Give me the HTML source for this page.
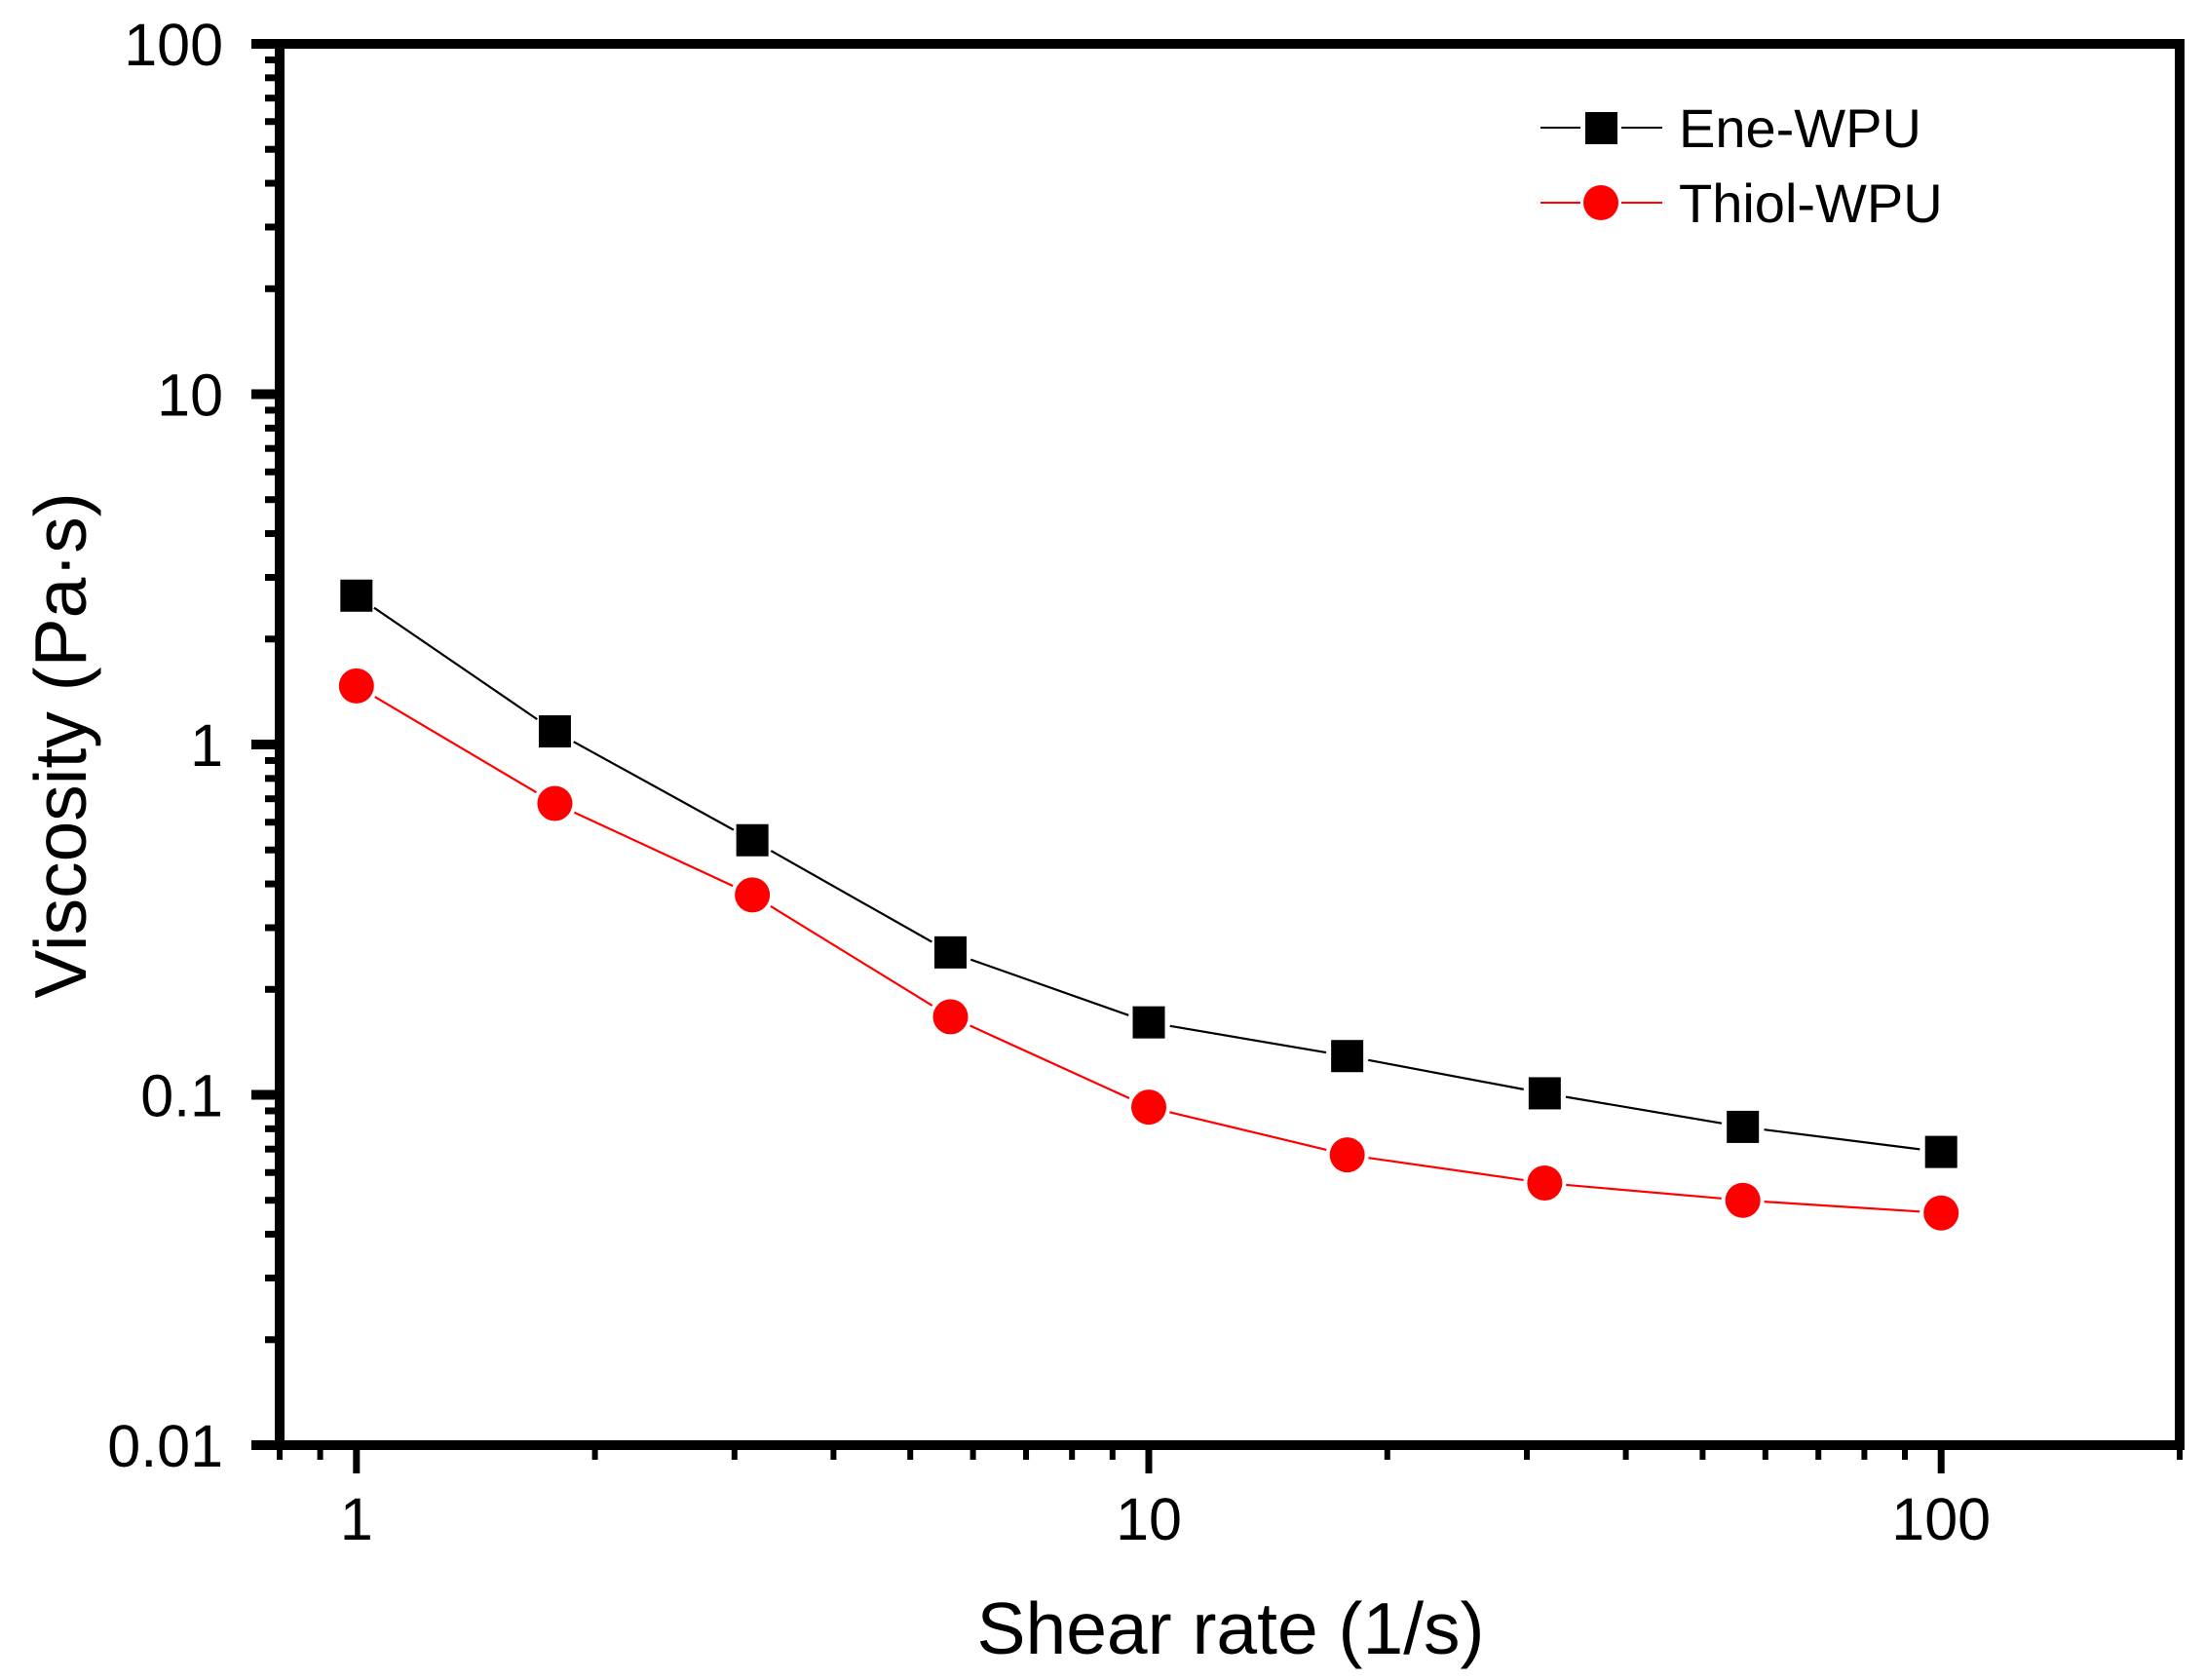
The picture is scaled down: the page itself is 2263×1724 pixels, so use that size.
<!DOCTYPE html>
<html><head><meta charset="utf-8"><style>
html,body{margin:0;padding:0;background:#fff;}
svg{display:block;font-family:"Liberation Sans",Arial,sans-serif;}
</style></head><body>
<svg id="chart" width="2263" height="1724" viewBox="0 0 2263 1724" xmlns="http://www.w3.org/2000/svg">
<rect width="2263" height="1724" fill="#fff"/>
<g id="marks"></g>
<g id="axes"></g>
<text x="0" y="0" transform="translate(88,765) rotate(-90)" text-anchor="middle" font-size="75">Viscosity (Pa·s)</text>
<text x="1263" y="1697" text-anchor="middle" font-size="75">Shear rate (1/s)</text>
<g>
 <g>
  <line x1="1581" y1="131" x2="1622" y2="131" stroke="#000" stroke-width="2"/>
  <line x1="1664" y1="131" x2="1706" y2="131" stroke="#000" stroke-width="2"/>
  <rect x="1627" y="115" width="33" height="33" fill="#000"/>
  <text x="1723" y="151" font-size="56">Ene-WPU</text>
 </g>
 <g>
  <line x1="1581" y1="208" x2="1622" y2="208" stroke="#f00" stroke-width="2"/>
  <line x1="1664" y1="208" x2="1706" y2="208" stroke="#f00" stroke-width="2"/>
  <circle cx="1643" cy="208" r="18" fill="#f00"/>
  <text x="1723" y="228" font-size="56">Thiol-WPU</text>
 </g>
</g>
</svg>
<script>
const shearRates = [1, 1.78, 3.16, 5.62, 10, 17.8, 31.6, 56.2, 100];
const eneWPU = [2.66, 1.09, 0.533, 0.255, 0.161, 0.129, 0.101, 0.081, 0.0687];
const thiolWPU = [1.47, 0.679, 0.372, 0.167, 0.0922, 0.0674, 0.056, 0.050, 0.046];
const yTickValues = [0.01, 0.1, 1, 10, 100];
const yTickLabels = ["0.01", "0.1", "1", "10", "100"];
const xTickValues = [1, 10, 100];
const xTickLabels = ["1", "10", "100"];

const L=287,R=2237,T=45,B=1483;
const xMin=0.8,xMax=200,yMin=0.01,yMax=100;
function xs(v){return L+(Math.log10(v)-Math.log10(xMin))/(Math.log10(xMax)-Math.log10(xMin))*(R-L);}
function ys(v){return B-(Math.log10(v)-Math.log10(yMin))/(Math.log10(yMax)-Math.log10(yMin))*(B-T);}
const NS="http://www.w3.org/2000/svg";
function mk(tag,attrs,parent){const e=document.createElementNS(NS,tag);for(const k in attrs)e.setAttribute(k,attrs[k]);parent.appendChild(e);return e;}
const marks=document.getElementById('marks'),axes=document.getElementById('axes');

function series(vals,color,name,shape){
  const g=mk('g',{},marks);
  
  
  const gap=22;
  for(let i=0;i<vals.length-1;i++){
    const x1=xs(shearRates[i]),y1=ys(vals[i]),x2=xs(shearRates[i+1]),y2=ys(vals[i+1]);
    const d=Math.hypot(x2-x1,y2-y1),ux=(x2-x1)/d,uy=(y2-y1)/d;
    const ln=mk('line',{x1:x1+ux*gap,y1:y1+uy*gap,x2:x2-ux*gap,y2:y2-uy*gap,stroke:color,'stroke-width':2.2},g);
    
    
  }
  vals.forEach((v,i)=>{
    const cx=xs(shearRates[i]),cy=ys(v);
    let m;
    if(shape==='square') m=mk('rect',{x:cx-16.5,y:cy-16.5,width:33,height:33,fill:color},g);
    else m=mk('circle',{cx:cx,cy:cy,r:18,fill:color},g);
    
    
  });
}
series(eneWPU,'#000','ene-wpu','square');
series(thiolWPU,'#f00','thiol-wpu','circle');

// frame
const frame=mk('rect',{x:L,y:T,width:R-L,height:B-T,fill:'none',stroke:'#000','stroke-width':10},axes);



// y ticks
for(let d=-2;d<2;d++){
  for(let k=1;k<=10;k++){
    const v=k*Math.pow(10,d);const y=ys(v);
    const major=(k===1||k===10);
    const t=mk('line',{x1:L-(major?29:15),y1:y,x2:L,y2:y,stroke:'#000','stroke-width':major?10:7},axes);
    
    
  }
}
yTickValues.forEach((v,i)=>{
  const t=mk('text',{x:229,y:ys(v)+22,'text-anchor':'end','font-size':61},axes);
  t.textContent=yTickLabels[i];
  
  
});
// x ticks
for(let d=-1;d<3;d++){
  for(let k=1;k<10;k++){
    const v=k*Math.pow(10,d);
    if(v<xMin||v>xMax)continue;
    const x=xs(v);const major=(k===1);
    const t=mk('line',{x1:x,y1:B,x2:x,y2:B+(major?29:15),stroke:'#000','stroke-width':major?7:6},axes);
    
    
  }
}
xTickValues.forEach((v,i)=>{
  const t=mk('text',{x:xs(v),y:1580,'text-anchor':'middle','font-size':61},axes);
  t.textContent=xTickLabels[i];
  
  
});
</script>
</body></html>
